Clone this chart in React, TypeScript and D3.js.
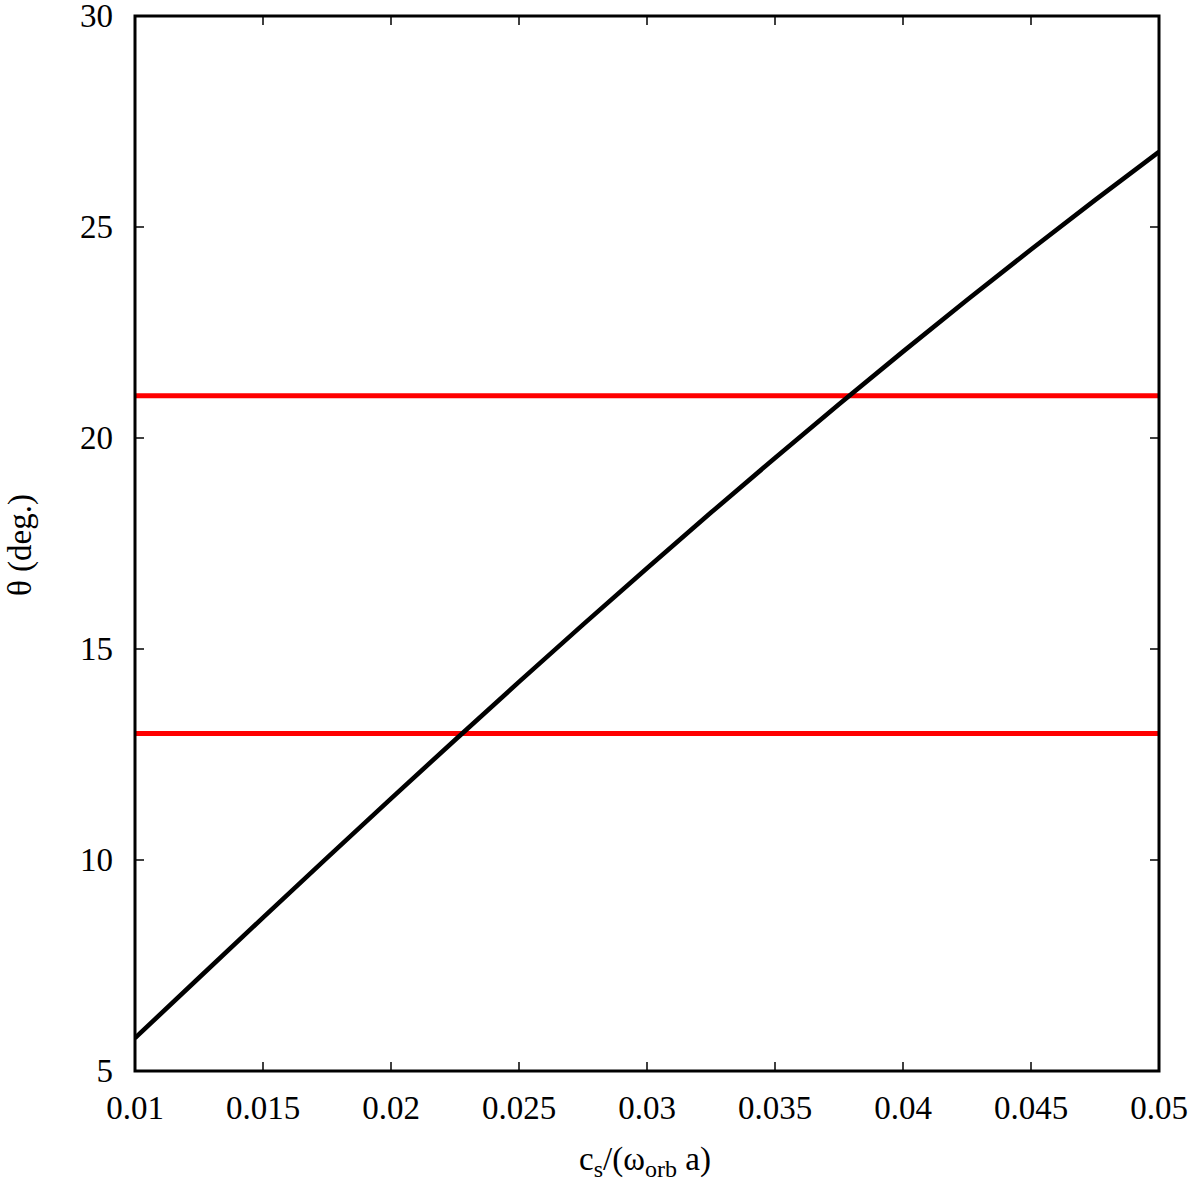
import React from "react";
import * as d3 from "d3";

const xValues = [0.01, 0.0125, 0.015, 0.0175, 0.02, 0.0225, 0.025, 0.0275, 0.03, 0.0325, 0.035, 0.0375, 0.04, 0.0425, 0.045, 0.0475, 0.05];
const thetaValues = [5.78, 7.21, 8.635, 10.05, 11.455, 12.845, 14.22, 15.577, 16.915, 18.232, 19.527, 20.799, 22.047, 23.27, 24.467, 25.637, 26.779];
const refLevels = [13, 21];
const xTicks = [0.01, 0.015, 0.02, 0.025, 0.03, 0.035, 0.04, 0.045, 0.05];
const yTicks = [5, 10, 15, 20, 25, 30];

const W = 1200, H = 1188;
const L = 135, R = 1159, T = 16, B = 1071;
const FONT = '"Liberation Serif", "DejaVu Serif", serif';
const ts: React.CSSProperties = { fontFamily: FONT };

export default function App() {
  const x = d3.scaleLinear().domain([0.01, 0.05]).range([L, R]);
  const y = d3.scaleLinear().domain([5, 30]).range([B, T]);
  const line = d3.line<number>().x((_, i) => x(xValues[i])).y((d) => y(d)).curve(d3.curveNatural);
  const tk = 9;
  return (
    <svg width={W} height={H} style={{ position: "absolute", left: 0, top: 0, background: "#fff" }}>
      <rect x={0} y={0} width={W} height={H} fill="#fff" />
      <defs>
        <clipPath id="plot"><rect x={L} y={T} width={R - L} height={B - T} /></clipPath>
      </defs>
      {refLevels.map((v) => (
        <line key={v} x1={x(0.01)} x2={x(0.05)} y1={y(v)} y2={y(v)} stroke="#ff0000" strokeWidth={5} />
      ))}
      <path d={line(thetaValues) || ""} fill="none" stroke="#000" strokeWidth={4.6} clipPath="url(#plot)" />
      {xTicks.map((t) => (
        <g key={"x" + t}>
          <line x1={x(t)} x2={x(t)} y1={B} y2={B - tk} stroke="#000" strokeWidth={1.5} />
          <line x1={x(t)} x2={x(t)} y1={T} y2={T + tk} stroke="#000" strokeWidth={1.5} />
          <text x={x(t)} y={1119} fontSize={33} textAnchor="middle" fill="#000" style={ts}>{String(t)}</text>
        </g>
      ))}
      {yTicks.map((t) => (
        <g key={"y" + t}>
          <line x1={L} x2={L + tk} y1={y(t)} y2={y(t)} stroke="#000" strokeWidth={1.5} />
          <line x1={R} x2={R - tk} y1={y(t)} y2={y(t)} stroke="#000" strokeWidth={1.5} />
          <text x={113} y={y(t) + 11} fontSize={33} textAnchor="end" fill="#000" style={ts}>{String(t)}</text>
        </g>
      ))}
      <rect x={L} y={T} width={R - L} height={B - T} fill="none" stroke="#000" strokeWidth={3} />
      <text transform={`translate(31,545) rotate(-90)`} fontSize={33} textAnchor="middle" fill="#000" style={ts}>θ (deg.)</text>
      <text x={645} y={1170} fontSize={33} textAnchor="middle" fill="#000" style={ts}>
        c<tspan fontSize={24} dy={7}>s</tspan><tspan dy={-7}>/(ω</tspan><tspan fontSize={24} dy={7}>orb</tspan><tspan dy={-7}> a)</tspan>
      </text>
    </svg>
  );
}
